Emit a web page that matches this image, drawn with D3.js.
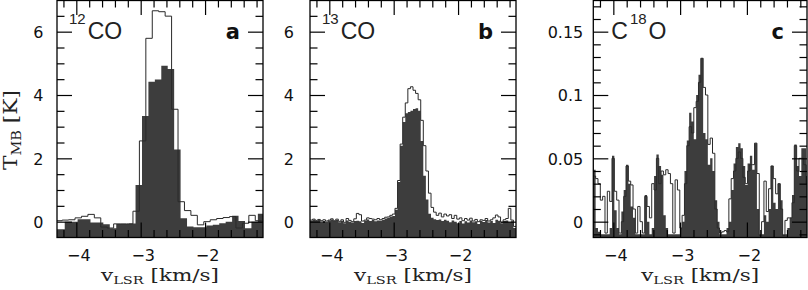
<!DOCTYPE html>
<html>
<head>
<meta charset="utf-8">
<script src="https://cdn.jsdelivr.net/npm/d3@7"></script>
<style>
  body { margin: 0; background: #fff; }
  svg { display: block; }
</style>
</head>
<body>
<div id="chart"></div>
<script>
// spectra: first channel centre (km/s), channel width, then T_MB per channel
var co12FillStart = -4.33, co12OpenStart = -4.27, co12Width = 0.1;
var co12Fill = [-0.24, -0.24, 0.0, 0.0, 0.08, 0.08, -0.03, -0.03, -0.08, -0.21,
  -0.07, -0.07, -0.06, 1.16, 3.34, 4.42, 4.49, 4.92, 4.82, 2.28,
  0.11, -0.15, -0.18, -0.18, -0.12, -0.1, -0.05, 0.0, 0.19, 0.02,
  -0.21, 0.0, 0.25, 0.0];
var co12Open = [0.03, 0.05, 0.06, 0.12, 0.17, 0.23, 0.12, -0.17, -0.2, -0.07,
  -0.07, -0.07, 0.33, 2.55, 5.79, 6.66, 6.63, 6.49, 3.55, 0.63,
  0.35, 0.2, -0.1, 0.0, 0.06, 0.1, 0.13, 0.16, -0.2, -0.05,
  0.2, 0.03];

var co13Start = -4.28, co13Width = 0.04;
var co13Fill = [0.03, 0.06, 0.02, 0.05, -0.04, 0.02, 0.0, 0.04, 0.07, 0.02,
  0.05, -0.02, 0.03, -0.05, 0.04, 0.0, -0.03, 0.02, 0.03, 0.01,
  -0.04, 0.03, 0.07, 0.02, 0.05, 0.01, 0.04, 0.03, 0.06, 0.1,
  0.12, 0.16, 0.18, 0.38, 1.25, 2.4, 3.15, 3.42, 3.46, 3.5,
  3.56, 3.58, 3.5, 2.55, 1.45, 0.7, 0.25, 0.12, 0.08, 0.05,
  0.07, 0.02, 0.06, 0.03, -0.02, 0.04, 0.0, -0.05, 0.02, -0.06,
  0.01, -0.03, 0.04, -0.02, 0.01, -0.07, 0.03, -0.01, 0.05, -0.03,
  0.02, -0.04, 0.06, 0.03, -0.05, 0.02, 0.04, -0.02, 0.01, -0.2];
var co13Open = [0.05, 0.08, 0.04, 0.07, 0.03, 0.06, 0.02, 0.05, 0.09, 0.03,
  0.08, 0.01, 0.06, -0.02, 0.1, 0.04, 0.0, 0.09, 0.26, 0.22,
  0.02, 0.05, 0.12, 0.1, 0.08, 0.06, 0.1, 0.06, 0.1, 0.14,
  0.15, 0.2, 0.24, 0.42, 1.3, 2.45, 3.3, 3.75, 4.2, 4.26,
  4.15, 4.05, 3.85, 3.2, 2.4, 1.6, 0.9, 0.45, 0.3, 0.2,
  0.27, 0.15, 0.24, 0.18, 0.22, 0.1, 0.2, 0.08, 0.12, 0.03,
  0.1, 0.05, 0.11, 0.02, 0.07, 0.0, 0.06, 0.04, 0.1, 0.02,
  0.06, 0.12, 0.21, 0.15, -0.02, 0.06, 0.1, 0.42, 0.05, -0.15];

var c18oStart = -4.2825, c18oWidth = 0.035;
var c18oFill = [0.041, -0.005, -0.008, -0.01, -0.01, -0.01, -0.01, -0.005, 0.052, 0.009,
  -0.005, -0.01, 0.008, 0.025, 0.045, 0.03, 0.012, 0.003, -0.01, -0.01,
  -0.01, -0.01, 0.021, 0.0, -0.01, -0.005, 0.036, 0.053, 0.044, 0.037,
  0.005, -0.005, -0.01, -0.01, -0.01, -0.01, -0.01, -0.005, 0.0, 0.04,
  0.064, 0.086, 0.079, 0.065, 0.1, 0.116, 0.129, 0.07, 0.065, 0.045,
  0.05, 0.04, 0.017, 0.0, -0.01, -0.01, -0.01, -0.005, 0.0, 0.025,
  0.046, 0.059, 0.062, 0.058, 0.044, 0.029, 0.046, 0.052, 0.041, 0.062,
  0.01, -0.01, -0.01, 0.005, 0.0, 0.01, 0.044, 0.015, 0.01, 0.03,
  0.017, -0.01, -0.01, -0.005, 0.003, 0.021, 0.061, 0.044, 0.036, 0.058,
  0.058, 0.036];
var c18oOpen = [0.036, 0.034, 0.03, 0.017, 0.02, -0.009, 0.024, 0.016, 0.05, 0.024,
  0.017, -0.009, 0.0, 0.02, 0.044, 0.032, 0.029, 0.01, -0.009, 0.012,
  0.0, -0.009, 0.02, 0.012, 0.003, 0.03, 0.025, 0.05, 0.03, 0.04,
  0.037, 0.041, 0.038, 0.03, -0.009, 0.033, 0.025, -0.005, 0.005, 0.03,
  0.06, 0.075, 0.07, 0.09, 0.095, 0.11, 0.129, 0.106, 0.1, 0.061,
  0.066, 0.054, 0.01, -0.005, -0.009, -0.008, -0.007, -0.008, 0.018, 0.034,
  0.04, 0.05, 0.055, 0.05, 0.035, 0.03, 0.04, 0.045, 0.045, 0.062,
  0.038, -0.011, 0.0, 0.032, 0.008, 0.026, 0.044, 0.034, 0.022, 0.03,
  0.01, -0.011, 0.001, 0.003, 0.003, 0.015, 0.06, 0.04, 0.05, 0.05,
  0.045, 0.03];

var xTicks = [-4, -3, -2];
var yTicksK = [0, 2, 4, 6];
var yTicksC18O = [0, 0.05, 0.1, 0.15];

var width = 808, height = 290;
var plotTop = 0, plotBottom = 237.5;
var fillColor = "#3d3d3d";

var panels = [
  { left: 57, right: 263, yDomain: [-0.5, 7], yTicks: yTicksK, yMinor: 0.5, labelGap: 13.5,
    fill: co12Fill, fillStart: co12FillStart, open: co12Open, openStart: co12OpenStart, dv: co12Width,
    letter: "a", iso: ["", "12", "CO"], isoX: 12 },
  { left: 310, right: 516, yDomain: [-0.5, 7], yTicks: yTicksK, yMinor: 0.5, labelGap: 16,
    fill: co13Fill, fillStart: co13Start, open: co13Open, openStart: co13Start, dv: co13Width,
    letter: "b", iso: ["", "13", "CO"], isoX: 12 },
  { left: 593.3, right: 807, yDomain: [-0.0125, 0.175], yTicks: yTicksC18O, yMinor: 0.01, labelGap: 10,
    fill: c18oFill, fillStart: c18oStart, open: c18oOpen, openStart: c18oStart, dv: c18oWidth,
    letter: "c", iso: ["C", "18", "O"], isoX: 18 }
];

var svg = d3.select("#chart").append("svg")
  .attr("width", width)
  .attr("height", height);

function steps(values, start, dv) {
  var pts = values.map(function (v, i) { return [start - dv / 2 + i * dv, v]; });
  pts.push([start - dv / 2 + values.length * dv, values[values.length - 1]]);
  return pts;
}

// plain number labels: -4, 0.1, 0.05 (with a real minus sign)
function plain(d) {
  return String(+d.toFixed(4)).replace("-", "\u2212");
}

// squeeze/stretch a text horizontally so it spans the wanted width
function fitWidth(text, target) {
  var w = text.node().getComputedTextLength();
  return target / w;
}

panels.forEach(function (p, n) {
  var x = d3.scaleLinear().domain([-4.3, -1.1]).range([p.left, p.right]);
  var y = d3.scaleLinear().domain(p.yDomain).range([plotBottom, plotTop]);
  var g = svg.append("g");

  g.append("clipPath").attr("id", "clip" + n)
    .append("rect")
    .attr("x", p.left).attr("y", plotTop)
    .attr("width", p.right - p.left).attr("height", plotBottom - plotTop);

  var plot = g.append("g").attr("clip-path", "url(#clip" + n + ")");

  plot.append("path")
    .datum(steps(p.fill, p.fillStart, p.dv))
    .attr("fill", fillColor)
    .attr("d", d3.area()
      .x(function (d) { return x(d[0]); })
      .y0(y(p.yDomain[0]))
      .y1(function (d) { return y(d[1]); })
      .curve(d3.curveStepAfter));

  plot.append("path")
    .datum(steps(p.open, p.openStart, p.dv))
    .attr("fill", "none")
    .attr("stroke", "#2a2a2a")
    .attr("stroke-width", 1)
    .attr("d", d3.line()
      .x(function (d) { return x(d[0]); })
      .y(function (d) { return y(d[1]); })
      .curve(d3.curveStepAfter));

  // minor ticks
  var xMinor = d3.range(-21, -5).map(function (i) { return i / 5; })
    .filter(function (v) { return Math.abs(v - Math.round(v)) > 1e-6; });
  var yMinor = d3.range(Math.ceil(p.yDomain[0] / p.yMinor), Math.floor(p.yDomain[1] / p.yMinor) + 1)
    .map(function (i) { return +(i * p.yMinor).toFixed(4); })
    .filter(function (v) {
      return v > p.yDomain[0] + 1e-9 && v < p.yDomain[1] - 1e-9 &&
        p.yTicks.every(function (t) { return Math.abs(t - v) > 1e-9; });
    });

  function axis(gen, scale, vals, size, transform, labels, pad) {
    var a = gen(scale).tickValues(vals).tickSize(-size).tickSizeOuter(0);
    if (!labels) a.tickFormat("");
    else a.tickPadding(pad).tickFormat(plain);
    var ax = g.append("g").attr("transform", transform).call(a);
    ax.select(".domain").remove();
    ax.selectAll("line").attr("stroke", "#000").attr("stroke-width", 1.2);
    ax.selectAll("text")
      .attr("font-family", "DejaVu Sans, sans-serif")
      .attr("font-size", 16)
      .attr("fill", "#111");
    return ax;
  }

  var bottom = "translate(0," + plotBottom + ")";
  var top = "translate(0," + plotTop + ")";
  var leftT = "translate(" + p.left + ",0)";
  var rightT = "translate(" + p.right + ",0)";

  axis(d3.axisBottom, x, xMinor, 7.5, bottom, false);
  axis(d3.axisBottom, x, xTicks, 15, bottom, true, 12.5)
    .selectAll("text").attr("dx", 2);
  axis(d3.axisTop, x, xMinor, 7.5, top, false);
  axis(d3.axisTop, x, xTicks, 15, top, false);
  axis(d3.axisLeft, y, yMinor, 7.5, leftT, false);
  axis(d3.axisLeft, y, p.yTicks, 15, leftT, true, p.labelGap)
    .selectAll("text").attr("dy", "0.36em");
  axis(d3.axisRight, y, yMinor, 7.5, rightT, false);
  axis(d3.axisRight, y, p.yTicks, 15, rightT, false);

  g.append("rect")
    .attr("x", p.left).attr("y", plotTop + 0.5)
    .attr("width", p.right - p.left).attr("height", plotBottom - plotTop - 0.5)
    .attr("fill", "none")
    .attr("stroke", "#000")
    .attr("stroke-width", 1.3);

  // molecule label, e.g. 12CO or C18O
  var mx = p.left + p.isoX;
  var base = 38.5;
  if (p.iso[0]) {
    var t0 = g.append("text").attr("x", mx).attr("y", base)
      .attr("font-family", "Liberation Sans, Arial, sans-serif")
      .attr("font-size", 23).attr("fill", "#222").text(p.iso[0]);
    mx += t0.node().getComputedTextLength() + 2;
  }
  var sup = g.append("text").attr("x", mx).attr("y", base - 15)
    .attr("font-family", "Liberation Sans, Arial, sans-serif")
    .attr("font-size", 15).attr("fill", "#222").text(p.iso[1]);
  mx += sup.node().getComputedTextLength() + 2;
  g.append("text").attr("x", mx).attr("y", base)
    .attr("font-family", "Liberation Sans, Arial, sans-serif")
    .attr("font-size", 23).attr("fill", "#222").text(p.iso[2]);

  g.append("text")
    .attr("x", p.right - 23).attr("y", base)
    .attr("text-anchor", "end")
    .attr("font-family", "DejaVu Sans, sans-serif")
    .attr("font-weight", "bold")
    .attr("font-size", 21)
    .attr("fill", "#111")
    .text(p.letter);

  // x title
  var xt = g.append("g");
  var txt = xt.append("text")
    .attr("text-anchor", "middle")
    .attr("font-family", "DejaVu Serif, serif")
    .attr("font-size", 17)
    .attr("fill", "#222");
  txt.append("tspan").text("v");
  txt.append("tspan").attr("font-size", 11.5).attr("dy", 3).text("LSR");
  txt.append("tspan").attr("dy", -3).text(" [km/s]");
  var s = fitWidth(txt, 118);
  xt.attr("transform", "translate(" + ((p.left + p.right) / 2) + ",281) scale(" + s + ",1)");
});

// y title
var yt = svg.append("g");
var ytxt = yt.append("text")
  .attr("text-anchor", "middle")
  .attr("font-family", "DejaVu Serif, serif")
  .attr("font-size", 18)
  .attr("fill", "#222");
ytxt.append("tspan").text("T");
ytxt.append("tspan").attr("font-size", 12).attr("dy", 4).text("MB");
ytxt.append("tspan").attr("dy", -4).text(" [K]");
var ys = fitWidth(ytxt, 80);
yt.attr("transform", "translate(16.5,130) rotate(-90) scale(" + ys + ",1)");
</script>
</body>
</html>
